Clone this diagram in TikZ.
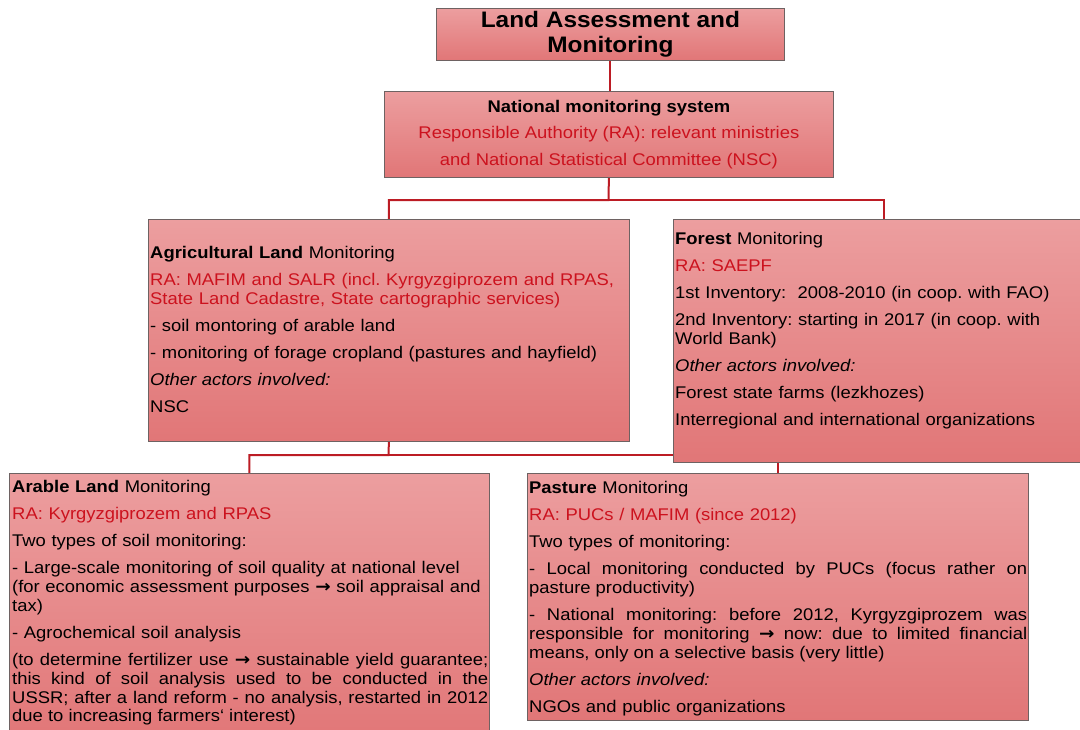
\documentclass[tikz,border=0pt]{standalone}
\usepackage{fontspec}
\setmainfont[FakeStretch=1.09]{Liberation Sans}
\newfontfamily\arrowfont[FakeStretch=1.09]{DejaVu Sans}
\usetikzlibrary{backgrounds}

\definecolor{boxtop}{RGB}{236,158,159}
\definecolor{boxbot}{RGB}{225,118,119}
\definecolor{boxline}{RGB}{110,98,98}
\definecolor{linkred}{RGB}{188,28,36}
\definecolor{rared}{RGB}{204,18,30}

\newcommand{\bodyfont}{\fontsize{16.9}{18.8}\selectfont\frenchspacing}
\newcommand{\ra}[1]{\textcolor{rared}{#1}}
\newcommand{\toarrow}{{\arrowfont\bfseries →}}
% justified paragraph inside a ragged node
\newcommand{\justpar}[1]{{\rightskip=0pt\relax\spaceskip=0pt\relax\xspaceskip=0pt\relax
  \parfillskip=0pt plus 1fil\relax #1\par}}

\tikzset{
  panel/.style={draw=boxline, line width=0.8pt, top color=boxtop, bottom color=boxbot,
    anchor=north west, inner sep=0pt},
  body/.style={anchor=north west, inner sep=0pt, font=\bodyfont,
    execute at begin node={\setlength{\parskip}{8.2pt}}},
  link/.style={draw=linkred, line width=2pt}
}

\begin{document}
\begin{tikzpicture}[x=1pt,y=-1pt]
\useasboundingbox (0,0) rectangle (1080,729);
\clip (0,0) rectangle (1080,729);

% top of the tree
\node[panel, minimum width=348pt, minimum height=52pt, align=center,
  font=\fontsize{22.4}{25}\selectfont\bfseries] (title) at (436,8)
  {Land Assessment and\\Monitoring};

\node[panel, minimum width=449pt, minimum height=86pt, align=center,
  font=\fontsize{16.9}{26.5}\selectfont] (natl) at (384,91)
  {\textbf{National monitoring system}\\
   \ra{Responsible Authority (RA): relevant ministries}\\
   \ra{and National Statistical Committee (NSC)}};

% second level
\node[panel, minimum width=481pt, minimum height=222pt] (agri) at (148,219) {};
\node[body, text width=478pt] (agri-text) at (150,246.5)
  {\textbf{Agricultural Land} Monitoring\par
   \ra{RA: MAFIM and SALR (incl. Kyrgyzgiprozem and RPAS,\\
   State Land Cadastre, State cartographic services)}\par
   - soil montoring of arable land\par
   - monitoring of forage cropland (pastures and hayfield)\par
   \textit{Other actors involved:}\par
   NSC};

\node[panel, minimum width=422pt, minimum height=243pt] (forest) at (673,219) {};
\node[body, text width=400pt] (forest-text) at (675,232.5)
  {\textbf{Forest} Monitoring\par
   \ra{RA: SAEPF}\par
   1st Inventory: \ 2008-2010 (in coop. with FAO)\par
   2nd Inventory: starting in 2017 (in coop. with\\
   World Bank)\par
   \textit{Other actors involved:}\par
   Forest state farms (lezkhozes)\par
   Interregional and international organizations};

% third level
\node[panel, minimum width=480pt, minimum height=270pt] (arable) at (9,473) {};
\node[body, text width=476pt] (arable-text) at (12,480.5)
  {\textbf{Arable Land} Monitoring\par
   \ra{RA: Kyrgyzgiprozem and RPAS}\par
   Two types of soil monitoring:\par
   - Large-scale monitoring of soil quality at national level\\
   (for economic assessment purposes \toarrow\ soil appraisal and\\
   tax)\par
   - Agrochemical soil analysis\par
   \justpar{(to determine fertilizer use \toarrow\ sustainable yield guarantee;\linebreak
   this kind of soil analysis used to be conducted in the\linebreak
   USSR; after a land reform - no analysis, restarted in 2012\linebreak
   due to increasing farmers‘ interest)}};

\node[panel, minimum width=501pt, minimum height=247pt] (pasture) at (527,473) {};
\node[body, text width=498pt] (pasture-text) at (529,481.5)
  {\textbf{Pasture} Monitoring\par
   \ra{RA: PUCs / MAFIM (since 2012)}\par
   Two types of monitoring:\par
   \justpar{- Local monitoring conducted by PUCs (focus rather on\linebreak
   pasture productivity)}
   \justpar{- National monitoring: before 2012, Kyrgyzgiprozem was\linebreak
   responsible for monitoring \toarrow\ now: due to limited financial\linebreak
   means, only on a selective basis (very little)}
   \textit{Other actors involved:}\par
   NGOs and public organizations};

% connectors behind the boxes
\begin{scope}[on background layer]
  \coordinate (fork1) at (608.5,200);
  \coordinate (fork2) at (388.5,455);
  \draw[link] (title.south) -- (title.south |- natl.north);
  \draw[link] (natl.south) -- (fork1) -| (agri.north);
  \draw[link] (fork1) -| (forest.north);
  \draw[link] (agri.south) -- (fork2) -| (arable.north);
  \draw[link] (fork2) -| (pasture.north);
\end{scope}
\end{tikzpicture}
\end{document}
